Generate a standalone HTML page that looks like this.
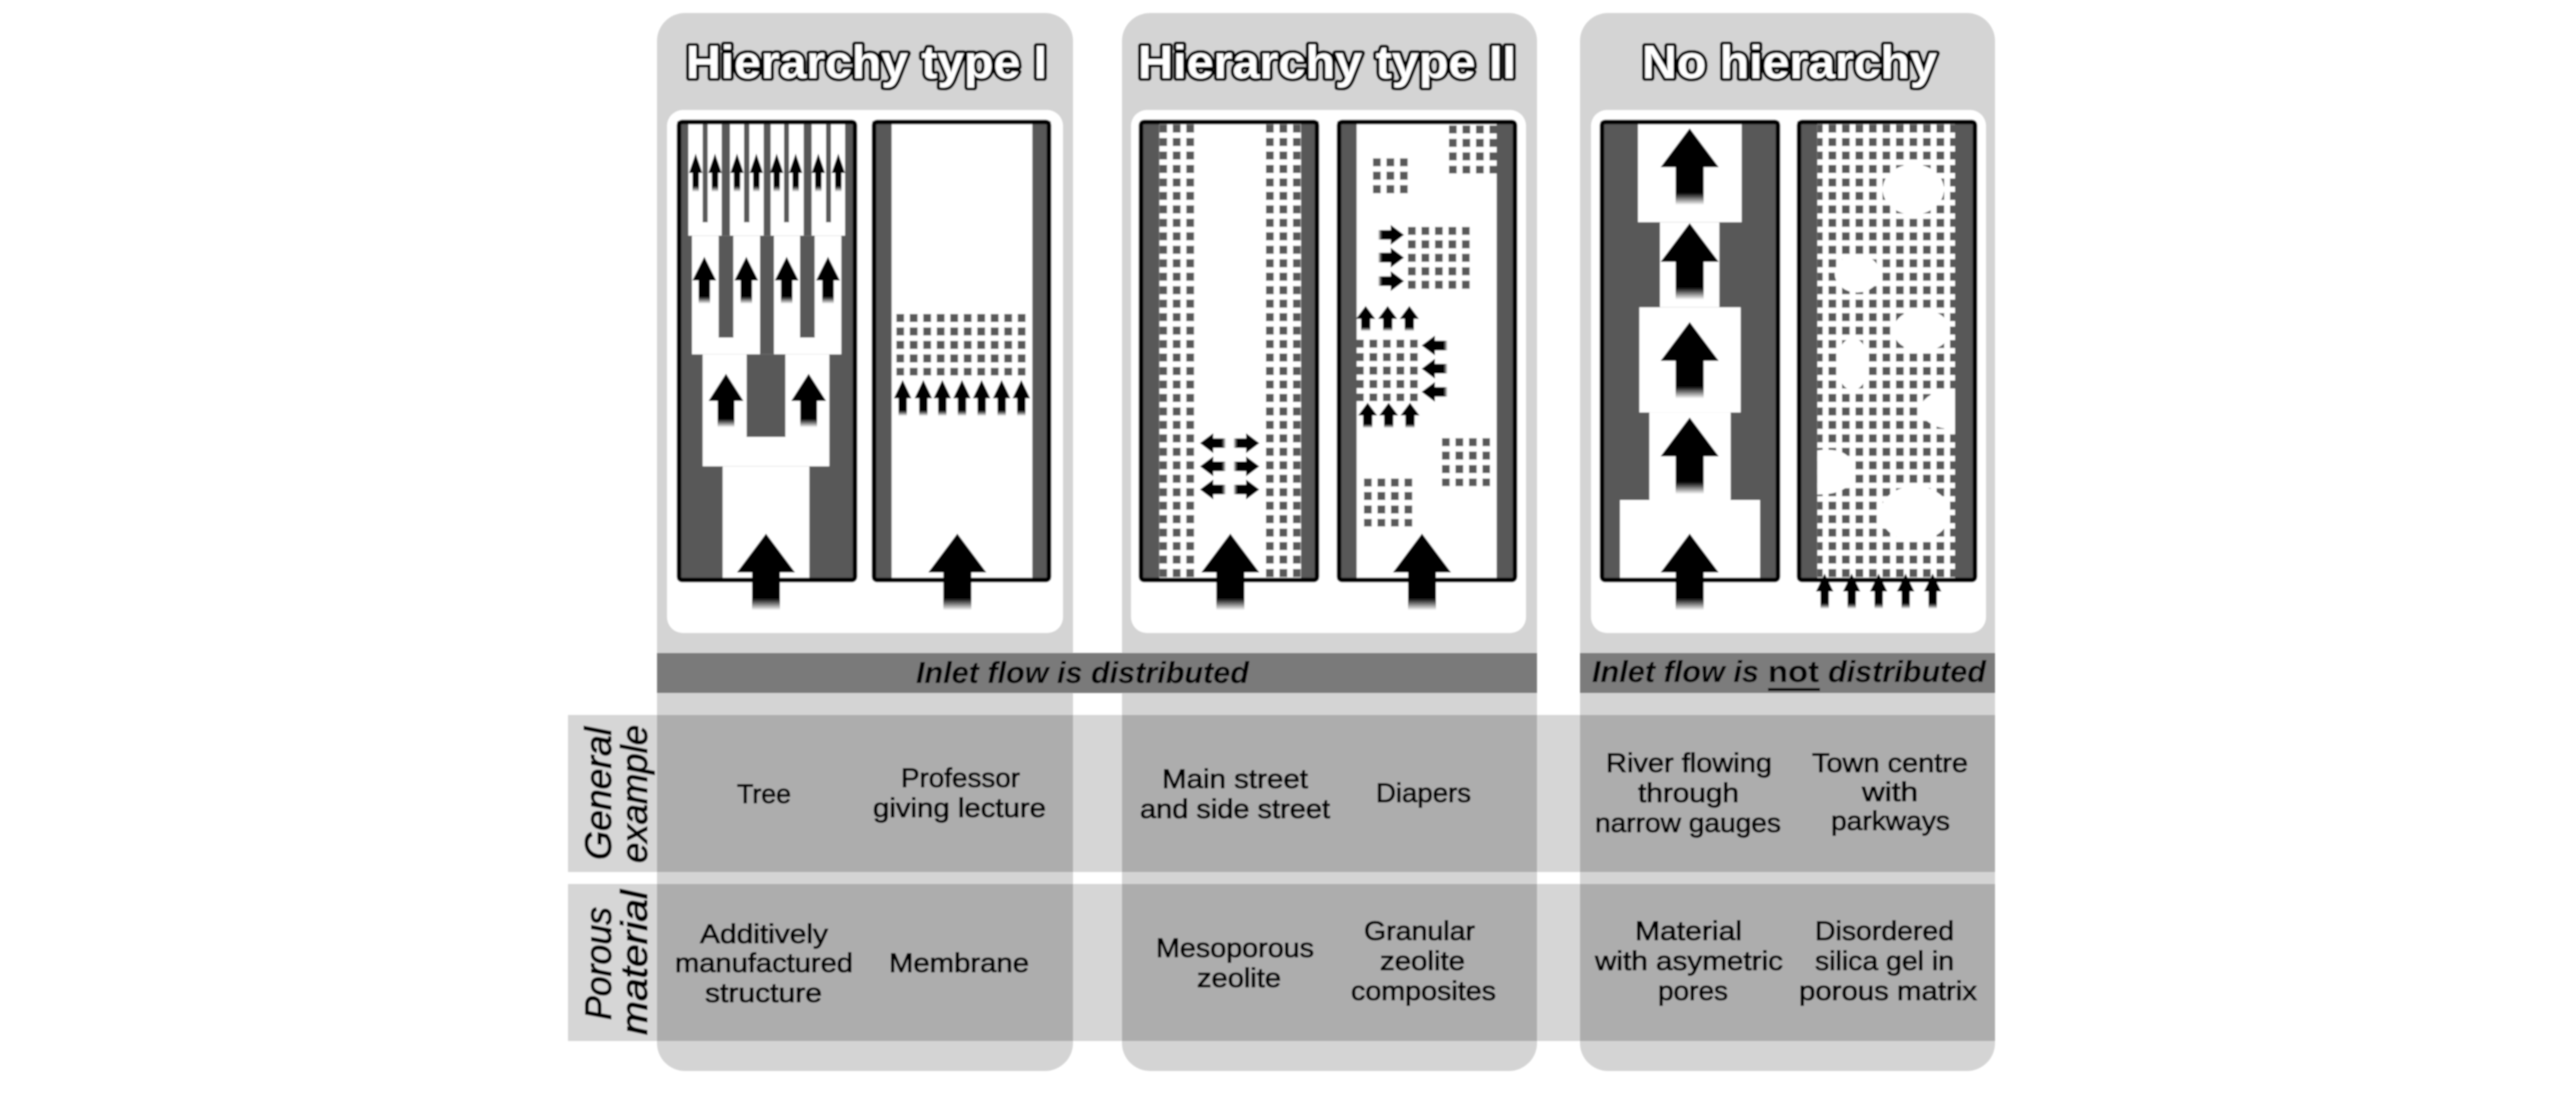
<!DOCTYPE html>
<html><head><meta charset="utf-8"><style>
html,body{margin:0;padding:0;background:#fff}
svg{display:block}
text{font-family:"Liberation Sans",sans-serif;fill:#000}
.h{font-weight:700;font-size:46px;fill:#fff;stroke:#000;stroke-width:6px;paint-order:stroke;stroke-linejoin:round}
.t{font-size:27px;stroke:#000;stroke-width:.8px}
.b{font-size:31px;font-weight:700;font-style:italic}
.r{font-size:37px;font-style:italic;stroke:#000;stroke-width:1px}
</style></head><body>
<svg xmlns="http://www.w3.org/2000/svg" width="2567" height="1102" viewBox="0 0 2567 1102">
<defs>
<linearGradient id="f" x1="0" y1="0" x2="0" y2="1"><stop offset=".84" stop-color="#000"/><stop offset="1" stop-color="#000" stop-opacity="0"/></linearGradient>
<path id="a" d="M0,0 L87,92 H42 V182 H-42 V92 H-87Z" fill="url(#f)"/>
<pattern id="d" patternUnits="userSpaceOnUse" width="40.5" height="32"><rect width="23" height="19" fill="#595959"/></pattern>
<filter id="s" filterUnits="userSpaceOnUse" x="0" y="0" width="2567" height="1102"><feGaussianBlur stdDeviation=".8"/></filter>
</defs>
<rect width="2567" height="1102" fill="#fff"/>
<g filter="url(#s)">
<!-- panels -->
<rect x="657" y="13" width="416" height="1058" rx="28" fill="#d4d4d4"/>
<rect x="1122" y="13" width="415" height="1058" rx="28" fill="#d4d4d4"/>
<rect x="1580" y="13" width="415" height="1058" rx="28" fill="#d4d4d4"/>
<rect x="667" y="110" width="396" height="523" rx="16" fill="#fff"/>
<rect x="1131" y="110" width="395" height="523" rx="16" fill="#fff"/>
<rect x="1591" y="110" width="395" height="523" rx="16" fill="#fff"/>
<!-- bars -->
<rect x="657" y="653" width="880" height="40" fill="#7a7a7a"/>
<rect x="1580" y="653" width="415" height="40" fill="#7c7c7c"/>
<!-- rows -->
<rect x="568" y="715" width="1427" height="157" fill="#d6d6d6"/>
<rect x="568" y="884" width="1427" height="157" fill="#d6d6d6"/>
<rect x="657" y="715" width="416" height="157" fill="#adadad"/>
<rect x="1122" y="715" width="415" height="157" fill="#adadad"/>
<rect x="1580" y="715" width="415" height="157" fill="#adadad"/>
<rect x="657" y="884" width="416" height="157" fill="#adadad"/>
<rect x="1122" y="884" width="415" height="157" fill="#adadad"/>
<rect x="1580" y="884" width="415" height="157" fill="#adadad"/>

<!-- Panel 1 content -->
<g transform="translate(640,0) scale(.33333,.42088)">
<rect x="112" y="288" width="536" height="1090" fill="#595959"/>
<rect x="248" y="1108" width="260" height="266" fill="#fff"/>
<rect x="188" y="842" width="380" height="266" fill="#fff"/>
<rect x="156" y="560" width="448" height="282" fill="#fff"/>
<rect x="145" y="295" width="470" height="265" fill="#fff"/>
<g fill="#595959">
<rect x="320" y="842" width="116" height="196"/>
<rect x="360" y="560" width="42" height="282"/>
<rect x="236" y="560" width="44" height="242"/>
<rect x="480" y="560" width="44" height="242"/>
<rect x="188" y="295" width="15" height="233"/>
<rect x="245" y="295" width="25" height="265"/>
<rect x="312" y="295" width="16" height="233"/>
<rect x="371" y="295" width="21" height="265"/>
<rect x="432" y="295" width="15" height="233"/>
<rect x="491" y="295" width="24" height="265"/>
<rect x="558" y="295" width="15" height="233"/>
</g>
<rect x="697" y="288" width="535" height="1090" fill="#fff"/>
<rect x="697" y="288" width="58" height="1090" fill="#595959"/>
<rect x="1177" y="288" width="55" height="1090" fill="#595959"/>
<rect transform="translate(769,746)" width="388" height="146" fill="url(#d)"/>
</g>
<!-- Panel 2 content -->
<g transform="translate(1100,0) scale(.33333,.42088)">
<rect x="120" y="288" width="536" height="1090" fill="#595959"/>
<rect x="178" y="295" width="425" height="1079" fill="#fff"/>
<rect transform="translate(178,296)" width="107" height="1076" fill="url(#d)"/>
<rect transform="translate(498,296)" width="105" height="1076" fill="url(#d)"/>
<rect x="712" y="288" width="536" height="1090" fill="#fff"/>
<rect x="712" y="288" width="58" height="1090" fill="#595959"/>
<rect x="1190" y="288" width="58" height="1090" fill="#595959"/>
<rect transform="translate(1047,298)" width="145" height="114" fill="url(#d)"/>
<rect transform="translate(819,376)" width="106" height="84" fill="url(#d)"/>
<rect transform="translate(924,539)" width="186" height="148" fill="url(#d)"/>
<rect transform="translate(768,807)" width="187" height="146" fill="url(#d)"/>
<rect transform="translate(1026,1041)" width="144" height="114" fill="url(#d)"/>
<rect transform="translate(792,1137)" width="146" height="114" fill="url(#d)"/>
</g>
<!-- Panel 3 content -->
<g transform="translate(1560,0) scale(.33333,.42088)">
<rect x="122" y="288" width="536" height="1090" fill="#595959"/>
<rect x="180" y="1188" width="420" height="186" fill="#fff"/>
<rect x="268" y="980" width="244" height="208" fill="#fff"/>
<rect x="238" y="730" width="304" height="250" fill="#fff"/>
<rect x="300" y="528" width="178" height="202" fill="#fff"/>
<rect x="234" y="295" width="311" height="233" fill="#fff"/>
<rect x="712" y="288" width="536" height="1090" fill="#595959"/>
<rect x="772" y="295" width="413" height="1079" fill="#fff"/>
<rect transform="translate(765,296)" x="7" width="413" height="1076" fill="url(#d)"/>
<g fill="#fff">
<ellipse cx="1060" cy="450" rx="92" ry="60"/>
<ellipse cx="892" cy="650" rx="68" ry="45"/>
<ellipse cx="1085" cy="785" rx="85" ry="50"/>
<ellipse cx="878" cy="865" rx="48" ry="62"/>
<path d="M1075,972 Q1100,925 1185,925 V1020 Q1100,1020 1075,972Z"/>
<path d="M772,1070 Q880,1060 880,1120 Q880,1175 772,1175Z"/>
<ellipse cx="1065" cy="1220" rx="105" ry="65"/>
</g>
</g>
<!-- frames -->
<g fill="none" stroke="#000" stroke-width="4.5">
<rect x="679" y="122" width="176" height="458" rx="3"/>
<rect x="874" y="122" width="175" height="458" rx="3"/>
<rect x="1141" y="122" width="176" height="458" rx="3"/>
<rect x="1339" y="122" width="176" height="458" rx="3"/>
<rect x="1602" y="122" width="176" height="458" rx="3"/>
<rect x="1799" y="122" width="176" height="458" rx="3"/>
</g>
<!-- arrows 1 -->
<g transform="translate(640,0) scale(.33333,.42088)">
<use href="#a" transform="translate(378,1268)"/>
<use href="#a" transform="translate(952,1268)"/>
<use href="#a" transform="translate(258,888) scale(.6,.7)"/>
<use href="#a" transform="translate(506,888) scale(.6,.7)"/>
<use href="#a" transform="translate(193,610) scale(.41,.615)"/>
<use href="#a" transform="translate(319,610) scale(.41,.615)"/>
<use href="#a" transform="translate(440,610) scale(.41,.615)"/>
<use href="#a" transform="translate(564,610) scale(.41,.615)"/>
<use href="#a" transform="translate(167,365) scale(.23,.5)"/>
<use href="#a" transform="translate(225,365) scale(.23,.5)"/>
<use href="#a" transform="translate(291,365) scale(.23,.5)"/>
<use href="#a" transform="translate(349,365) scale(.23,.5)"/>
<use href="#a" transform="translate(410,365) scale(.23,.5)"/>
<use href="#a" transform="translate(467,365) scale(.23,.5)"/>
<use href="#a" transform="translate(535,365) scale(.23,.5)"/>
<use href="#a" transform="translate(595,365) scale(.23,.5)"/>
<use href="#a" transform="translate(788,903) scale(.3,.47)"/>
<use href="#a" transform="translate(850,903) scale(.3,.47)"/>
<use href="#a" transform="translate(907,903) scale(.3,.47)"/>
<use href="#a" transform="translate(966,903) scale(.3,.47)"/>
<use href="#a" transform="translate(1025,903) scale(.3,.47)"/>
<use href="#a" transform="translate(1085,903) scale(.3,.47)"/>
<use href="#a" transform="translate(1144,903) scale(.3,.47)"/>
</g>
<!-- arrows 2 -->
<g transform="translate(1100,0) scale(.33333,.42088)">
<use href="#a" transform="translate(391,1268)"/>
<use href="#a" transform="translate(966,1268)"/>
<use href="#a" transform="translate(300,1053) rotate(-90) scale(.27,.43)"/>
<use href="#a" transform="translate(300,1108) rotate(-90) scale(.27,.43)"/>
<use href="#a" transform="translate(300,1163) rotate(-90) scale(.27,.43)"/>
<use href="#a" transform="translate(478,1053) rotate(90) scale(.27,.43)"/>
<use href="#a" transform="translate(478,1108) rotate(90) scale(.27,.43)"/>
<use href="#a" transform="translate(478,1163) rotate(90) scale(.27,.43)"/>
<use href="#a" transform="translate(912,558) rotate(90) scale(.27,.43)"/>
<use href="#a" transform="translate(912,612) rotate(90) scale(.27,.43)"/>
<use href="#a" transform="translate(912,668) rotate(90) scale(.27,.43)"/>
<use href="#a" transform="translate(965,821) rotate(-90) scale(.27,.43)"/>
<use href="#a" transform="translate(965,876) rotate(-90) scale(.27,.43)"/>
<use href="#a" transform="translate(965,931) rotate(-90) scale(.27,.43)"/>
<use href="#a" transform="translate(797,727) scale(.33,.33)"/>
<use href="#a" transform="translate(863,727) scale(.33,.33)"/>
<use href="#a" transform="translate(928,727) scale(.33,.33)"/>
<use href="#a" transform="translate(803,957) scale(.33,.33)"/>
<use href="#a" transform="translate(866,957) scale(.33,.33)"/>
<use href="#a" transform="translate(930,957) scale(.33,.33)"/>
</g>
<!-- arrows 3 -->
<g transform="translate(1560,0) scale(.33333,.42088)">
<use href="#a" transform="translate(389,305)"/>
<use href="#a" transform="translate(389,530)"/>
<use href="#a" transform="translate(389,765)"/>
<use href="#a" transform="translate(389,992)"/>
<use href="#a" transform="translate(389,1268)"/>
<use href="#a" transform="translate(794,1363) scale(.3,.46)"/>
<use href="#a" transform="translate(875,1363) scale(.3,.46)"/>
<use href="#a" transform="translate(956,1363) scale(.3,.46)"/>
<use href="#a" transform="translate(1037,1363) scale(.3,.46)"/>
<use href="#a" transform="translate(1118,1363) scale(.3,.46)"/>
</g>
<!-- headings -->
<text class="h" x="686" y="78" textLength="361" lengthAdjust="spacingAndGlyphs">Hierarchy type I</text>
<text class="h" x="1138" y="78" textLength="378" lengthAdjust="spacingAndGlyphs">Hierarchy type II</text>
<text class="h" x="1642" y="78" textLength="295" lengthAdjust="spacingAndGlyphs">No hierarchy</text>
<!-- bars -->
<text class="b" x="916" y="683" textLength="333" lengthAdjust="spacingAndGlyphs">Inlet flow is distributed</text>
<text class="b" x="1592" y="682" textLength="167" lengthAdjust="spacingAndGlyphs">Inlet flow is</text>
<text class="b" style="font-style:normal" x="1768" y="682" textLength="51" lengthAdjust="spacingAndGlyphs">not</text>
<rect x="1768" y="688" width="52" height="3" fill="#000"/>
<text class="b" x="1828" y="682" textLength="158" lengthAdjust="spacingAndGlyphs">distributed</text>
<!-- table -->
<text class="t" x="737" y="803" textLength="54" lengthAdjust="spacingAndGlyphs">Tree</text>
<text class="t" x="901" y="787" textLength="119" lengthAdjust="spacingAndGlyphs">Professor</text>
<text class="t" x="873" y="817" textLength="173" lengthAdjust="spacingAndGlyphs">giving lecture</text>
<text class="t" x="1162" y="788" textLength="146" lengthAdjust="spacingAndGlyphs">Main street</text>
<text class="t" x="1140" y="818" textLength="190" lengthAdjust="spacingAndGlyphs">and side street</text>
<text class="t" x="1376" y="802" textLength="95" lengthAdjust="spacingAndGlyphs">Diapers</text>
<text class="t" x="1606" y="772" textLength="166" lengthAdjust="spacingAndGlyphs">River flowing</text>
<text class="t" x="1638" y="802" textLength="101" lengthAdjust="spacingAndGlyphs">through</text>
<text class="t" x="1595" y="832" textLength="186" lengthAdjust="spacingAndGlyphs">narrow gauges</text>
<text class="t" x="1812" y="772" textLength="156" lengthAdjust="spacingAndGlyphs">Town centre</text>
<text class="t" x="1862" y="801" textLength="56" lengthAdjust="spacingAndGlyphs">with</text>
<text class="t" x="1831" y="830" textLength="119" lengthAdjust="spacingAndGlyphs">parkways</text>
<text class="t" x="700" y="943" textLength="128" lengthAdjust="spacingAndGlyphs">Additively</text>
<text class="t" x="675" y="972" textLength="178" lengthAdjust="spacingAndGlyphs">manufactured</text>
<text class="t" x="705" y="1002" textLength="117" lengthAdjust="spacingAndGlyphs">structure</text>
<text class="t" x="889" y="972" textLength="140" lengthAdjust="spacingAndGlyphs">Membrane</text>
<text class="t" x="1156" y="957" textLength="158" lengthAdjust="spacingAndGlyphs">Mesoporous</text>
<text class="t" x="1197" y="987" textLength="84" lengthAdjust="spacingAndGlyphs">zeolite</text>
<text class="t" x="1364" y="940" textLength="111" lengthAdjust="spacingAndGlyphs">Granular</text>
<text class="t" x="1380" y="970" textLength="85" lengthAdjust="spacingAndGlyphs">zeolite</text>
<text class="t" x="1351" y="1000" textLength="145" lengthAdjust="spacingAndGlyphs">composites</text>
<text class="t" x="1635" y="940" textLength="107" lengthAdjust="spacingAndGlyphs">Material</text>
<text class="t" x="1595" y="970" textLength="188" lengthAdjust="spacingAndGlyphs">with asymetric</text>
<text class="t" x="1658" y="1000" textLength="70" lengthAdjust="spacingAndGlyphs">pores</text>
<text class="t" x="1815" y="940" textLength="139" lengthAdjust="spacingAndGlyphs">Disordered</text>
<text class="t" x="1815" y="970" textLength="139" lengthAdjust="spacingAndGlyphs">silica gel in</text>
<text class="t" x="1799" y="1000" textLength="178" lengthAdjust="spacingAndGlyphs">porous matrix</text>
<!-- rotated -->
<text class="r" transform="translate(611,860) rotate(-90)" textLength="133" lengthAdjust="spacingAndGlyphs">General</text>
<text class="r" transform="translate(647,863) rotate(-90)" textLength="138" lengthAdjust="spacingAndGlyphs">example</text>
<text class="r" transform="translate(611,1020) rotate(-90)" textLength="113" lengthAdjust="spacingAndGlyphs">Porous</text>
<text class="r" transform="translate(647,1035) rotate(-90)" textLength="145" lengthAdjust="spacingAndGlyphs">material</text>
</g>
</svg>
</body></html>
